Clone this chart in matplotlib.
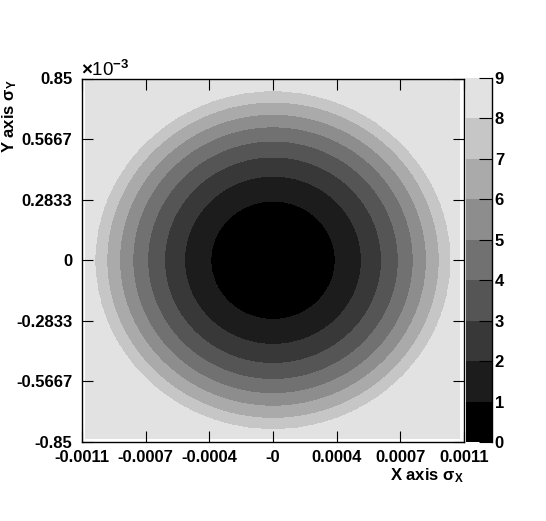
import matplotlib
matplotlib.use('Agg')
import matplotlib.pyplot as plt
import numpy as np
from matplotlib.colors import ListedColormap

plt.rcParams['font.family'] = ['Liberation Sans', 'DejaVu Sans']
plt.rcParams['font.weight'] = 'bold'
plt.rcParams['mathtext.fontset'] = 'custom'
plt.rcParams['mathtext.rm'] = 'Liberation Sans'
plt.rcParams['mathtext.it'] = 'Liberation Sans'
plt.rcParams['mathtext.bf'] = 'Liberation Sans:bold'

#################################################
# Data.
# contour levels and the radius of each level boundary, as a fraction
# of the half axis range (x: 0.0011, y: 0.85e-3)
levels = [0, 1, 2, 3, 4, 5, 6, 7, 8, 9]
level_radius = [0.0, 0.326, 0.463, 0.568, 0.656, 0.734, 0.803, 0.870, 0.930]
band_gray = [0, 28, 56, 85, 113, 141, 170, 198, 226]

x_half = 0.0011
y_half = 0.85e-3
x_ticks = [-0.0011, -0.0011 * 2 / 3, -0.0011 / 3, 0, 0.0011 / 3, 0.0011 * 2 / 3, 0.0011]
x_labels = ['-0.0011', '-0.0007', '-0.0004', '-0', '0.0004', '0.0007', '0.0011']
y_ticks = [-0.85e-3, -0.5667e-3, -0.2833e-3, 0, 0.2833e-3, 0.5667e-3, 0.85e-3]
y_labels = ['-0.85', '-0.5667', '-0.2833', '0', '0.2833', '0.5667', '0.85']

# filled region of the histogram (slightly inside the frame)
x_lo, x_hi = -0.0011 + 3 * 0.0022 / 382, 0.0011 - 4 * 0.0022 / 382
y_lo, y_hi = -0.85e-3 + 3 * 0.0017 / 363, 0.85e-3

#################################################
# Grid.
xg = np.linspace(x_lo, x_hi, 500)
yg = np.linspace(y_lo, y_hi, 500)
X, Y = np.meshgrid(xg, yg)
rho = np.sqrt((X / x_half) ** 2 + (Y / y_half) ** 2)
Z = np.interp(rho, level_radius + [3.0], levels[:9] + [8.99])

cmap = ListedColormap([(g / 255, g / 255, g / 255) for g in band_gray])

#################################################
# Display.
fs = 12
fig = plt.figure(figsize=(5.46, 5.21), dpi=100)
ax = fig.add_axes([82 / 546, 1 - 442 / 521, 382 / 546, 363.5 / 521])
cax = fig.add_axes([466 / 546, 1 - 442 / 521, 26 / 546, 364 / 521])

cs = ax.contourf(X, Y, Z, levels=levels, cmap=cmap)
ax.set_xlim(-x_half, x_half)
ax.set_ylim(-y_half, y_half)

ax.set_xticks(x_ticks)
ax.set_xticklabels(x_labels)
ax.set_yticks(y_ticks)
ax.set_yticklabels(y_labels)
ax.tick_params(direction='in', length=8, width=0.8, top=True, right=True,
               labelsize=fs)
ax.tick_params(axis='x', pad=6)
ax.tick_params(axis='y', pad=7)
for sp in ax.spines.values():
    sp.set_linewidth(1)

cbar = fig.colorbar(cs, cax=cax)
cbar.outline.set_visible(False)
cax.plot([1, 1], [0, 1], transform=cax.transAxes, color='black', lw=1,
         clip_on=False)
cax.yaxis.set_ticks_position('right')
cax.set_yticks(levels)
cax.tick_params(direction='in', length=9.5, width=0.8, pad=2, labelsize=fs)

fig.text(464 / 546, 1 - 480 / 521, r'X axis $\sigma_{\mathbf{X}}$',
         ha='right', va='baseline', fontsize=fs)
fig.text(0 / 546, 1 - 79 / 521, r'Y axis $\sigma_{\mathbf{Y}}$',
         ha='left', va='top', rotation=90, fontsize=fs)
fig.text(81 / 546, 1 - 70 / 521, r'$\times$10$^{-3}$', ha='left',
         va='center', fontsize=13.5, fontweight='normal')

fig.savefig('out.png', dpi=100)
